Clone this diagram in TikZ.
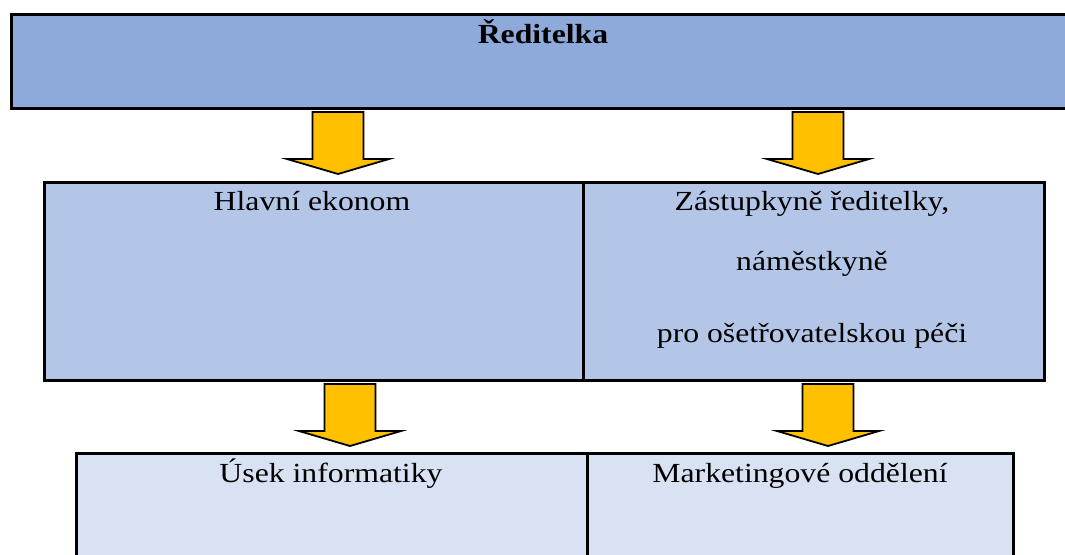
\documentclass[tikz,border=0pt]{standalone}
\usepackage{fontspec}
\setmainfont{Liberation Serif}[FakeStretch=1.15]
\definecolor{dirfill}{HTML}{8EAADB}
\definecolor{midfill}{HTML}{B4C6E7}
\definecolor{lowfill}{HTML}{D9E2F3}
\definecolor{arrowfill}{HTML}{FFC000}
\tikzset{
  box/.style={draw=black, line width=2.6pt, inner sep=0pt, anchor=north west},
  lbl/.style={anchor=base, inner sep=0pt, font=\fontsize{27.6}{31}\selectfont},
  downarrow/.pic={
    \draw[fill=arrowfill, draw=black, line width=1.8pt, line join=miter]
      (0,0) -- (-51,-15) -- (-25.5,-15) -- (-25.5,-62) -- (25.5,-62)
      -- (25.5,-15) -- (51,-15) -- cycle;
  }
}
\begin{document}
\begin{tikzpicture}[x=1pt,y=-1pt]
  \useasboundingbox (0,0) rectangle (1065,554);
  \clip (0,0) rectangle (1065,554);

  % top level
  \node[box, fill=dirfill, minimum width=1065pt, minimum height=94pt] (dir) at (10,13) {};
  \node[lbl, font=\fontsize{27.6}{31}\selectfont\bfseries] (dirtxt) at (543,43) {Ředitelka};

  % second level
  \node[box, fill=midfill, minimum width=539pt, minimum height=198pt] (eko) at (43,181) {};
  \node[box, fill=midfill, minimum width=461pt, minimum height=198pt] (zast) at (582,181) {};
  \node[lbl] (ekotxt) at (312,210) {Hlavní ekonom};
  \node[lbl] (zasttxt1) at (812,210) {Zástupkyně ředitelky,};
  \node[lbl] (zasttxt2) at (812,270) {náměstkyně};
  \node[lbl] (zasttxt3) at (812,342) {pro ošetřovatelskou péči};

  % third level
  \node[box, fill=lowfill, minimum width=511pt, minimum height=140pt] (info) at (75,452) {};
  \node[box, fill=lowfill, minimum width=426pt, minimum height=140pt] (mark) at (586,452) {};
  \node[lbl] (infotxt) at (331,482) {Úsek informatiky};
  \node[lbl] (marktxt) at (800,482) {Marketingové oddělení};

  % block arrows between the levels
  \coordinate (a1) at (338,174);
  \coordinate (a2) at (818,174);
  \coordinate (a3) at (350,446);
  \coordinate (a4) at (828,446);
  \pic at (a1) {downarrow};
  \pic at (a2) {downarrow};
  \pic at (a3) {downarrow};
  \pic at (a4) {downarrow};
\end{tikzpicture}
\end{document}
